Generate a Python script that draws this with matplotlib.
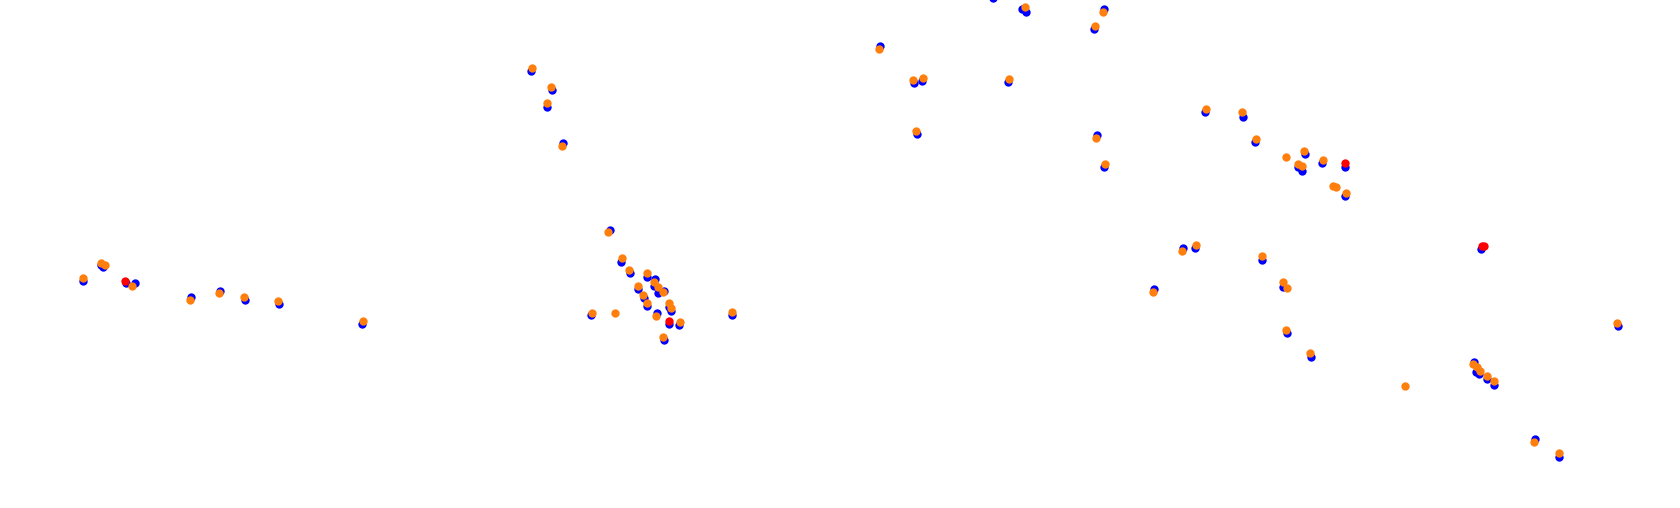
import matplotlib
matplotlib.use("Agg")
import matplotlib.pyplot as plt

# Point positions (x, y; y grows downward)
blue_x = [82.7, 101, 103.3, 125.7, 135, 191, 220, 245, 278.7, 361.7,
          531, 551.7, 546.7, 562.7,
          609.7, 621, 630, 647, 655, 654, 658.3, 664.3, 638.3, 644, 647, 668.7, 671, 657.3, 668.7, 679, 664, 590.7, 732,
          880, 914, 922, 1007.7, 917, 992.7, 1025.7, 1021.7, 1104, 1094, 1097, 1104,
          1205, 1242.7, 1254.7, 1304.7, 1298.3, 1302.3, 1321.7, 1345, 1345,
          1183.3, 1195, 1262, 1154, 1283.3, 1287, 1310.7,
          1480.7, 1617.7, 1474, 1475.7, 1479, 1486.7, 1493.7, 1535, 1559]
blue_y = [280.7, 265, 267.3, 283.3, 283.3, 297.3, 291, 300.3, 304.3, 324,
          71.3, 90, 106.7, 143.3,
          230.3, 261.7, 273.3, 277.3, 279.3, 286, 293.3, 291, 289.3, 298.3, 306, 306.7, 310.7, 313, 324, 325, 340, 315.3, 315.3,
          46.3, 83.3, 81, 82.3, 134.3, -2, 12.3, 9.3, 9.3, 29, 135, 167.3,
          112.3, 116.7, 142.3, 154.3, 167.3, 170.7, 163, 166.7, 196.3,
          248, 248.3, 259.7, 289, 286.7, 333.3, 356.7,
          249.3, 326, 361.7, 371.7, 374, 379.3, 385, 439, 456.7]

orange_x = [82.7, 101, 105, 131.7, 190, 219, 243.7, 277.7, 362.7,
            531.7, 550.7, 547, 561.7,
            608, 621.7, 629, 647, 654.3, 658, 663, 637.7, 642.7, 646.7, 669, 671, 656, 680, 663, 591.7, 614.7, 732,
            879, 912.7, 923, 1009, 916, 1025, 1103, 1095, 1095.7, 1104.7,
            1206, 1242, 1255.7, 1286, 1303.7, 1297.7, 1301.7, 1322.7, 1333.3, 1336, 1346,
            1182, 1196, 1262, 1152.7, 1282.7, 1287.3, 1286, 1310,
            1617, 1473, 1476.7, 1480, 1487, 1494.3, 1405, 1534, 1559]
orange_y = [277.7, 263.3, 265, 285.7, 300, 292.7, 296.7, 300.7, 320.7,
            67.7, 86.7, 102.7, 146,
            232, 258.3, 270, 273.3, 281.7, 287.3, 292.3, 286, 294.7, 302.7, 302.7, 307.7, 316, 321.7, 336.7, 312.7, 312.7, 311.7,
            49, 79.7, 77.7, 78.7, 130.7, 7.3, 12, 25.7, 137.7, 164,
            108.7, 111.7, 138.7, 156.7, 150.7, 163.7, 166, 159.7, 185.7, 187, 192.7,
            251, 244.7, 256, 291.7, 281.7, 288.3, 330, 352.7,
            322.7, 364.3, 367.3, 370.7, 375.7, 381.3, 385.7, 441.7, 453]

red_x = [125, 669, 1345, 1482, 1484]
red_y = [280.7, 320.7, 162.7, 246.3, 245.5]

fig = plt.figure(figsize=(16.8, 5.08), dpi=100)
ax = fig.add_axes([0, 0, 1, 1])

ax.scatter(blue_x, blue_y, s=36, color="#0000ff", linewidths=0)
ax.scatter(red_x, red_y, s=36, color="#ff0000", linewidths=0)
ax.scatter(orange_x, orange_y, s=36, color="#ff7f0e", linewidths=0)

ax.set_xlim(0, 1680)
ax.set_ylim(508, 0)
ax.axis("off")

fig.savefig("out.png", dpi=100, facecolor="white")
